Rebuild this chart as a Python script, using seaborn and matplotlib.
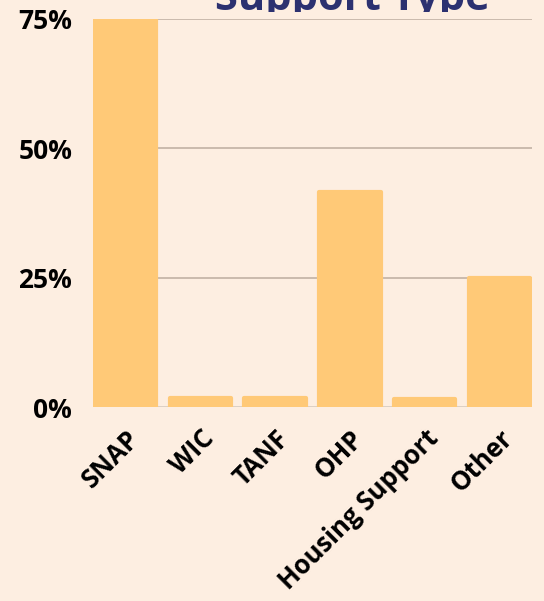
import seaborn as sns
import matplotlib.pyplot as plt
import matplotlib.transforms as mtransforms
from matplotlib import font_manager
import pandas as pd

# values (percent of respondents)
categories = ['SNAP', 'WIC', 'TANF', 'OHP', 'Housing Support', 'Other']
percents = [75.0, 1.8, 1.8, 41.6, 1.5, 25.0]
y_ticks = [0, 25, 50, 75]
y_tick_labels = ['0%', '25%', '50%', '75%']

bg = '#FDEEE1'
bar_color = '#FFC977'
title_color = '#2C3170'

sns.set_theme(style='white')

# look for a regular-width bold face on disk (skip condensed cuts)
bold_path = None
for cand in ['Open Sans', 'Noto Sans', 'Lato']:
    for f in font_manager.fontManager.ttflist:
        name = f.fname.lower()
        if f.name == cand and f.weight in (700, 'bold') \
                and 'condensed' not in name and 'narrow' not in name and 'italic' not in name \
                and 'display' not in name:
            bold_path = f.fname
            break
    if bold_path:
        break

if bold_path:
    bold = font_manager.FontProperties(fname=bold_path)
else:
    bold = font_manager.FontProperties(family='DejaVu Sans', weight='bold')

df = pd.DataFrame({'type': categories, 'pct': percents})

fig = plt.figure(figsize=(5.44, 6.01), dpi=100, facecolor=bg)
ax = fig.add_axes([93 / 544, 1 - 407 / 601, (532 - 93) / 544, (407 - 19) / 601])
ax.set_facecolor(bg)

sns.barplot(data=df, x='type', y='pct', color=bar_color, width=0.82,
            saturation=1, ax=ax, zorder=3)

# rounded corners: stroke each bar in its own colour with round joins
for patch in ax.patches:
    patch.set_edgecolor(bar_color)
    patch.set_linewidth(3)
    patch.set_joinstyle('round')

ax.set_xlim(-0.437, 5.437)
ax.set_ylim(0, 75)
ax.set_yticks(y_ticks)
ax.set_yticklabels(y_tick_labels)

# gridlines and baseline
for v in y_ticks[1:]:
    ax.axhline(v, color='#C6B6A9', linewidth=1.3, zorder=1)
ax.axhline(0, color='#555555', linewidth=1.0, zorder=1)

for side in ['top', 'right', 'left', 'bottom']:
    ax.spines[side].set_visible(False)

ax.tick_params(axis='y', length=0, pad=15)
ax.tick_params(axis='x', length=0, pad=13)
for lbl in ax.get_yticklabels():
    lbl.set_fontproperties(bold)
    lbl.set_fontsize(19)
    lbl.set_color('black')
for lbl in ax.get_xticklabels():
    lbl.set_fontproperties(bold)
    lbl.set_fontsize(18.5)
    lbl.set_color('black')
    lbl.set_rotation(45)
    lbl.set_ha('right')
    lbl.set_va('top')
    lbl.set_rotation_mode('anchor')

ax.set_xlabel('')
ax.set_ylabel('')

# title sits mostly above the canvas in the reference; only its lower strip shows
title = fig.text(352 / 544, 1 - 10 / 601, 'Support Type', ha='center', va='baseline',
                 fontproperties=bold, color=title_color)
title.set_fontsize(30)
clip = mtransforms.TransformedBbox(mtransforms.Bbox([[0, 1 - 12 / 601], [1, 1]]),
                                   fig.transFigure)
title.set_clip_box(clip)
title.set_clip_on(True)

fig.savefig('out.png', dpi=100, facecolor=bg)
